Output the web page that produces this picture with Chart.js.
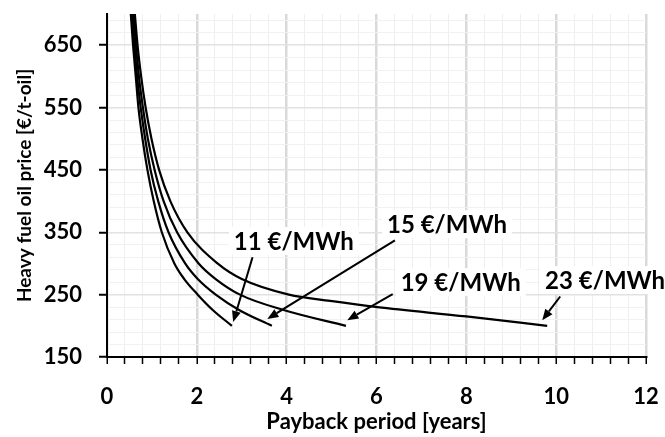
<!DOCTYPE html>
<html>
<head>
<meta charset="utf-8">
<script src="https://cdn.jsdelivr.net/npm/chart.js@4.4.0/dist/chart.umd.min.js"></script>
<style>
  html, body { margin: 0; padding: 0; background: #fff; }
  #wrap { width: 665px; height: 437px; }
</style>
</head>
<body>
<div id="wrap"><canvas id="paybackChart" width="665" height="437"></canvas></div>
<script>
// LNG price cases
const seriesNames = ['11 €/MWh', '15 €/MWh', '19 €/MWh', '23 €/MWh'];

// heavy fuel oil price [€/t-oil] vs payback period [years]
const price11 = [700, 650, 600, 550, 500, 450, 400, 350, 300, 275, 250, 225, 200];
const payback11 = [0.53, 0.58, 0.64, 0.70, 0.79, 0.90, 1.04, 1.22, 1.50, 1.72, 2.02, 2.36, 2.78];

const price15 = [700, 650, 600, 550, 500, 450, 400, 350, 300, 275, 250, 225, 200];
const payback15 = [0.56, 0.61, 0.67, 0.75, 0.85, 0.97, 1.14, 1.37, 1.74, 2.02, 2.42, 2.95, 3.67];

const price19 = [700, 650, 600, 550, 500, 450, 400, 350, 300, 275, 250, 225, 200];
const payback19 = [0.59, 0.645, 0.71, 0.80, 0.91, 1.06, 1.26, 1.56, 2.04, 2.42, 2.96, 3.95, 5.32];

const price23 = [700, 650, 600, 550, 500, 450, 400, 350, 300, 275, 250, 240, 230, 215, 200];
const payback23 = [0.62, 0.68, 0.76, 0.86, 0.99, 1.16, 1.41, 1.79, 2.46, 3.0, 4.05, 4.97, 6.02, 8.0, 9.8];

// axis ticks
const xMajorTicks = [0, 2, 4, 6, 8, 10, 12];
const xMinorStep = 0.4;
const yMajorTicks = [150, 250, 350, 450, 550, 650];
const yMinorStep = 20;

const FONT = 'Lato, "Open Sans", sans-serif';

function toPoints(xs, ys) {
    return xs.map((x, i) => ({ x: x, y: ys[i] }));
}

const isMajor = (list, v) => list.some(m => Math.abs(m - v) < 1e-6);

// label boxes + arrows (placed in data units)
const notes = [
    { text: seriesNames[0], x: 4.16, y: 336, from: [3.24, 310], to: [2.81, 206] },
    { text: seriesNames[1], x: 7.57, y: 363, from: [6.41, 337], to: [3.57, 211] },
    { text: seriesNames[2], x: 7.875, y: 270, from: [6.36, 251], to: [5.35, 209] },
    { text: seriesNames[3], x: 11.09, y: 273.5, from: [10.09, 247], to: [9.69, 209] }
];

const notePlugin = {
    id: 'notes',
    beforeDatasetsDraw(chart) {
        const ctx = chart.ctx;
        const xs = chart.scales.x, ys = chart.scales.y;
        ctx.save();
        ctx.font = 'bold 24px ' + FONT;
        notes.forEach(n => {
            const cx = xs.getPixelForValue(n.x);
            const cy = ys.getPixelForValue(n.y);
            const w = ctx.measureText(n.text).width + 10;
            ctx.fillStyle = '#fff';
            ctx.fillRect(cx - w / 2, cy - 14, w, 28);
        });
        ctx.restore();
    },
    afterDatasetsDraw(chart) {
        const ctx = chart.ctx;
        const xs = chart.scales.x, ys = chart.scales.y;
        ctx.save();
        ctx.font = 'bold 24px ' + FONT;
        ctx.fillStyle = '#000';
        ctx.textAlign = 'center';
        ctx.textBaseline = 'middle';
        notes.forEach(n => {
            ctx.fillText(n.text, xs.getPixelForValue(n.x), ys.getPixelForValue(n.y) + 1);

            // arrow
            const x1 = xs.getPixelForValue(n.from[0]), y1 = ys.getPixelForValue(n.from[1]);
            const x2 = xs.getPixelForValue(n.to[0]), y2 = ys.getPixelForValue(n.to[1]);
            const ang = Math.atan2(y2 - y1, x2 - x1);
            const head = 11, half = 4.5;
            const bx = x2 - head * Math.cos(ang), by = y2 - head * Math.sin(ang);
            ctx.strokeStyle = '#000';
            ctx.lineWidth = 2;
            ctx.beginPath();
            ctx.moveTo(x1, y1);
            ctx.lineTo(bx, by);
            ctx.stroke();
            ctx.beginPath();
            ctx.moveTo(x2, y2);
            ctx.lineTo(bx + half * Math.sin(ang), by - half * Math.cos(ang));
            ctx.lineTo(bx - half * Math.sin(ang), by + half * Math.cos(ang));
            ctx.closePath();
            ctx.fill();
        });
        ctx.restore();
    }
};

const lineStyle = {
    showLine: true,
    borderColor: '#000',
    borderWidth: 2.2,
    pointRadius: 0,
    cubicInterpolationMode: 'monotone',
    fill: false
};

const ctx = document.getElementById('paybackChart').getContext('2d');
const chart = new Chart(ctx, {
    type: 'scatter',
    data: {
        datasets: [
            Object.assign({ label: seriesNames[0], data: toPoints(payback11, price11) }, lineStyle),
            Object.assign({ label: seriesNames[1], data: toPoints(payback15, price15) }, lineStyle),
            Object.assign({ label: seriesNames[2], data: toPoints(payback19, price19) }, lineStyle),
            Object.assign({ label: seriesNames[3], data: toPoints(payback23, price23) }, lineStyle)
        ]
    },
    options: {
        responsive: false,
        animation: false,
        layout: { padding: { left: 0, right: 19, top: 14, bottom: 0 } },
        plugins: {
            legend: { display: false },
            tooltip: { enabled: false }
        },
        scales: {
            x: {
                type: 'linear',
                min: 0,
                max: 12,
                afterBuildTicks: scale => {
                    const t = [];
                    for (let k = 0; k <= 30; k++) t.push({ value: Math.round(k * xMinorStep * 10) / 10 });
                    scale.ticks = t;
                },
                afterFit: scale => {
                    scale.height = 80;
                    scale.paddingLeft = 0;
                    scale.paddingRight = 0;
                },
                ticks: {
                    autoSkip: false,
                    maxRotation: 0,
                    padding: 20,
                    color: '#000',
                    font: { family: FONT, size: 22, weight: 'bold' },
                    callback: v => isMajor(xMajorTicks, v) ? String(v) : ''
                },
                grid: {
                    color: c => isMajor(xMajorTicks, c.tick.value) ? '#d9d9d9' : '#efefef',
                    lineWidth: c => isMajor(xMajorTicks, c.tick.value) ? 2.5 : 1,
                    tickColor: '#000',
                    tickWidth: 1.5,
                    tickLength: 7
                },
                border: { color: '#000', width: 2 },
                title: {
                    display: true,
                    text: 'Payback period [years]',
                    color: '#000',
                    font: { family: FONT, size: 22, weight: 'bold' },
                    padding: { top: 0, bottom: 2 }
                }
            },
            y: {
                type: 'linear',
                min: 150,
                max: 700,
                afterBuildTicks: scale => {
                    const t = [];
                    for (let v = 150; v < 700; v += yMinorStep) t.push({ value: v });
                    scale.ticks = t;
                },
                afterFit: scale => {
                    scale.width = 107;
                    scale.paddingTop = 0;
                    scale.paddingBottom = 0;
                },
                ticks: {
                    autoSkip: false,
                    padding: 17,
                    color: '#000',
                    font: { family: FONT, size: 22, weight: 'bold' },
                    callback: v => isMajor(yMajorTicks, v) ? String(v) : ''
                },
                grid: {
                    color: c => isMajor(yMajorTicks, c.tick.value) ? '#e2e2e2' : '#f1f1f1',
                    lineWidth: c => isMajor(yMajorTicks, c.tick.value) ? 1.5 : 1,
                    tickColor: c => isMajor(yMajorTicks, c.tick.value) ? '#000' : 'rgba(0,0,0,0)',
                    tickWidth: 2,
                    tickLength: 8
                },
                border: { color: '#000', width: 2 },
                title: {
                    display: true,
                    text: 'Heavy fuel oil price [€/t-oil]',
                    color: '#000',
                    font: { family: FONT, size: 19, weight: 'bold' },
                    padding: { top: 13, bottom: 0 }
                }
            }
        }
    },
    plugins: [notePlugin]
});
</script>
</body>
</html>
